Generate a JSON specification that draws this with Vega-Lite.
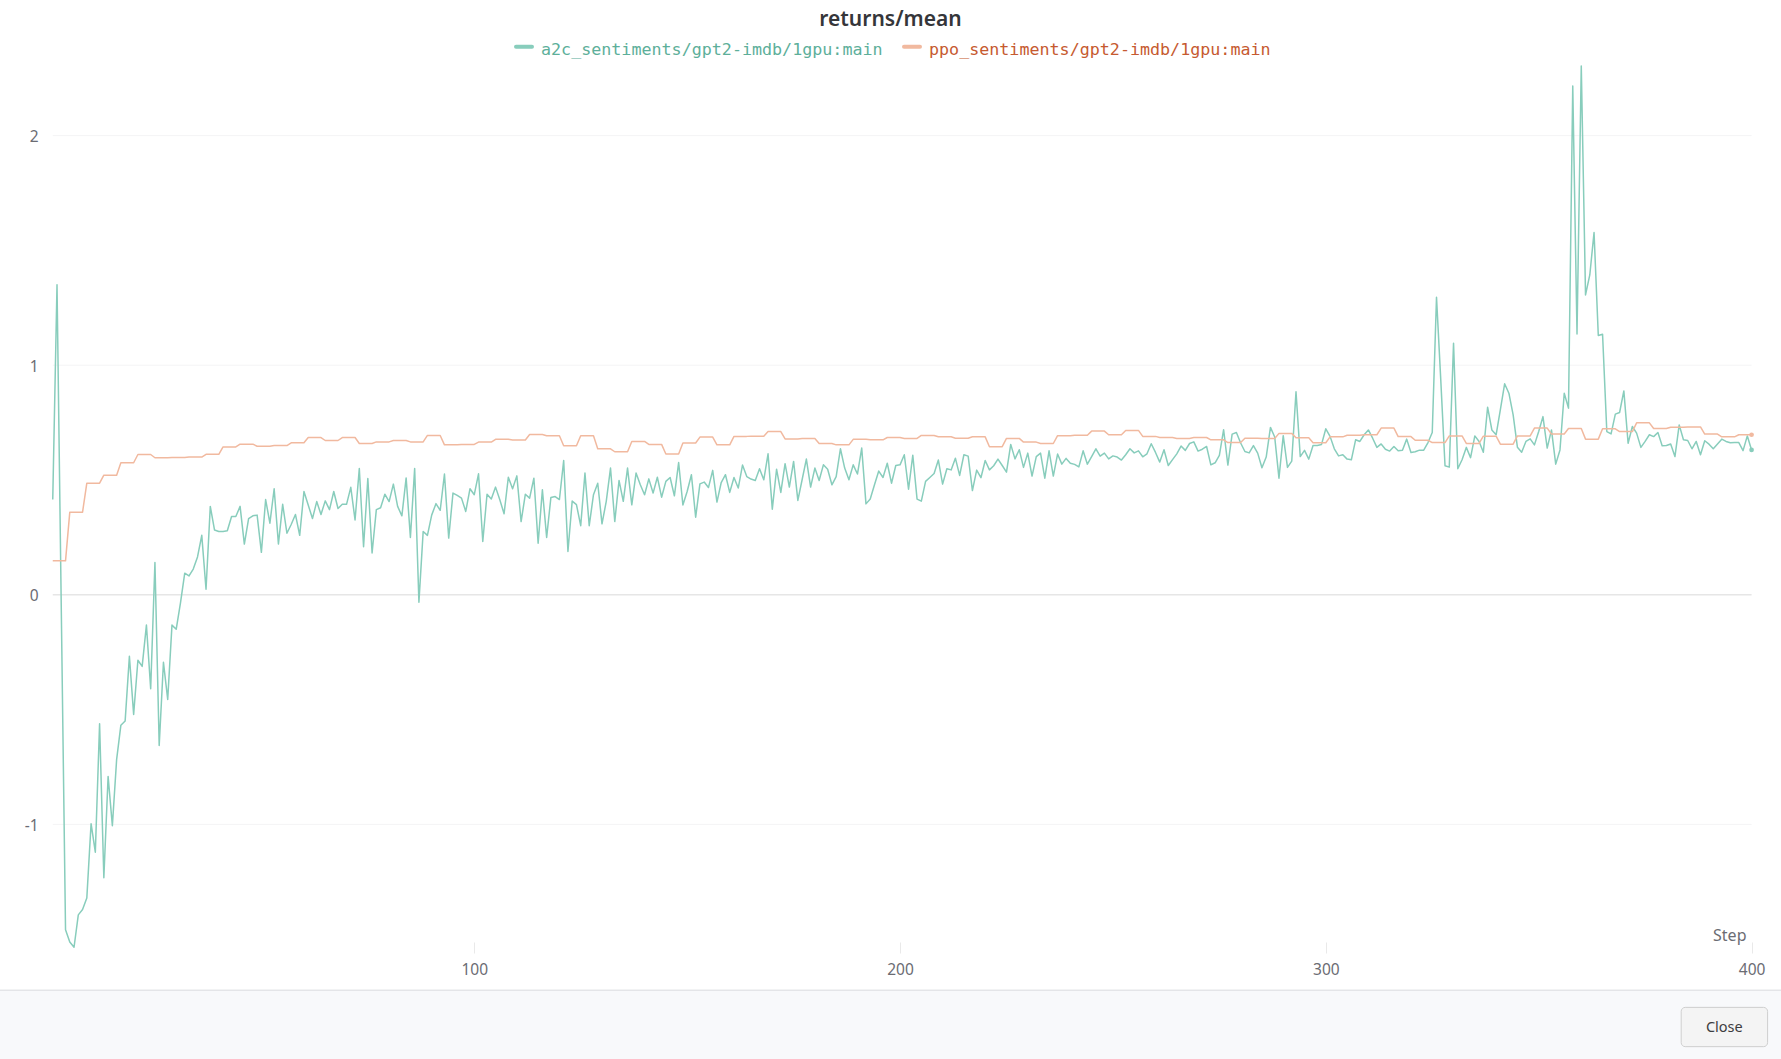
{"$schema":"https://vega.github.io/schema/vega-lite/v6.json","width":1781,"height":1059,"padding":0,"autosize":{"type":"none"},"background":"#ffffff","config":{"view":{"stroke":null}},
"title":{"text":"returns/mean","anchor":"middle","offset":-30,"font":"Noto Sans","fontSize":21,"fontWeight":600,"color":"#35363a"},
"datasets":{"runs":[
{"step":1,"a2c":0.415,"ppo":0.148},{"step":2,"a2c":1.35,"ppo":0.148},{"step":3,"a2c":-0.056,"ppo":0.148},{"step":4,"a2c":-1.459,"ppo":0.148},
{"step":5,"a2c":-1.512,"ppo":0.36},{"step":6,"a2c":-1.535,"ppo":0.36},{"step":7,"a2c":-1.394,"ppo":0.36},{"step":8,"a2c":-1.371,"ppo":0.36},
{"step":9,"a2c":-1.321,"ppo":0.486},{"step":10,"a2c":-0.997,"ppo":0.486},{"step":11,"a2c":-1.121,"ppo":0.486},{"step":12,"a2c":-0.562,"ppo":0.486},
{"step":13,"a2c":-1.232,"ppo":0.521},{"step":14,"a2c":-0.791,"ppo":0.521},{"step":15,"a2c":-1.006,"ppo":0.521},{"step":16,"a2c":-0.718,"ppo":0.521},
{"step":17,"a2c":-0.568,"ppo":0.575},{"step":18,"a2c":-0.55,"ppo":0.575},{"step":19,"a2c":-0.268,"ppo":0.575},{"step":20,"a2c":-0.521,"ppo":0.575},
{"step":21,"a2c":-0.285,"ppo":0.611},{"step":22,"a2c":-0.312,"ppo":0.611},{"step":23,"a2c":-0.132,"ppo":0.611},{"step":24,"a2c":-0.409,"ppo":0.611},
{"step":25,"a2c":0.141,"ppo":0.597},{"step":26,"a2c":-0.656,"ppo":0.597},{"step":27,"a2c":-0.294,"ppo":0.597},{"step":28,"a2c":-0.456,"ppo":0.597},
{"step":29,"a2c":-0.132,"ppo":0.598},{"step":30,"a2c":-0.15,"ppo":0.598},{"step":31,"a2c":-0.035,"ppo":0.598},{"step":32,"a2c":0.094,"ppo":0.598},
{"step":33,"a2c":0.082,"ppo":0.6},{"step":34,"a2c":0.112,"ppo":0.6},{"step":35,"a2c":0.165,"ppo":0.6},{"step":36,"a2c":0.259,"ppo":0.6},
{"step":37,"a2c":0.024,"ppo":0.612},{"step":38,"a2c":0.385,"ppo":0.612},{"step":39,"a2c":0.282,"ppo":0.612},{"step":40,"a2c":0.276,"ppo":0.612},
{"step":41,"a2c":0.276,"ppo":0.644},{"step":42,"a2c":0.279,"ppo":0.644},{"step":43,"a2c":0.341,"ppo":0.644},{"step":44,"a2c":0.341,"ppo":0.644},
{"step":45,"a2c":0.385,"ppo":0.656},{"step":46,"a2c":0.221,"ppo":0.656},{"step":47,"a2c":0.332,"ppo":0.656},{"step":48,"a2c":0.344,"ppo":0.656},
{"step":49,"a2c":0.347,"ppo":0.647},{"step":50,"a2c":0.185,"ppo":0.647},{"step":51,"a2c":0.415,"ppo":0.647},{"step":52,"a2c":0.312,"ppo":0.647},
{"step":53,"a2c":0.462,"ppo":0.65},{"step":54,"a2c":0.221,"ppo":0.65},{"step":55,"a2c":0.394,"ppo":0.65},{"step":56,"a2c":0.268,"ppo":0.65},
{"step":57,"a2c":0.306,"ppo":0.662},{"step":58,"a2c":0.35,"ppo":0.662},{"step":59,"a2c":0.259,"ppo":0.662},{"step":60,"a2c":0.45,"ppo":0.662},
{"step":61,"a2c":0.391,"ppo":0.685},{"step":62,"a2c":0.332,"ppo":0.685},{"step":63,"a2c":0.406,"ppo":0.685},{"step":64,"a2c":0.35,"ppo":0.685},
{"step":65,"a2c":0.409,"ppo":0.672},{"step":66,"a2c":0.371,"ppo":0.672},{"step":67,"a2c":0.45,"ppo":0.672},{"step":68,"a2c":0.376,"ppo":0.672},
{"step":69,"a2c":0.394,"ppo":0.685},{"step":70,"a2c":0.394,"ppo":0.685},{"step":71,"a2c":0.468,"ppo":0.685},{"step":72,"a2c":0.326,"ppo":0.685},
{"step":73,"a2c":0.55,"ppo":0.659},{"step":74,"a2c":0.209,"ppo":0.659},{"step":75,"a2c":0.506,"ppo":0.659},{"step":76,"a2c":0.182,"ppo":0.659},
{"step":77,"a2c":0.371,"ppo":0.666},{"step":78,"a2c":0.379,"ppo":0.666},{"step":79,"a2c":0.438,"ppo":0.666},{"step":80,"a2c":0.406,"ppo":0.666},
{"step":81,"a2c":0.482,"ppo":0.672},{"step":82,"a2c":0.385,"ppo":0.672},{"step":83,"a2c":0.344,"ppo":0.672},{"step":84,"a2c":0.509,"ppo":0.672},
{"step":85,"a2c":0.25,"ppo":0.666},{"step":86,"a2c":0.55,"ppo":0.666},{"step":87,"a2c":-0.032,"ppo":0.666},{"step":88,"a2c":0.276,"ppo":0.666},
{"step":89,"a2c":0.259,"ppo":0.694},{"step":90,"a2c":0.347,"ppo":0.694},{"step":91,"a2c":0.397,"ppo":0.694},{"step":92,"a2c":0.368,"ppo":0.694},
{"step":93,"a2c":0.526,"ppo":0.653},{"step":94,"a2c":0.247,"ppo":0.653},{"step":95,"a2c":0.443,"ppo":0.653},{"step":96,"a2c":0.433,"ppo":0.653},
{"step":97,"a2c":0.421,"ppo":0.655},{"step":98,"a2c":0.363,"ppo":0.655},{"step":99,"a2c":0.462,"ppo":0.655},{"step":100,"a2c":0.436,"ppo":0.655},
{"step":101,"a2c":0.527,"ppo":0.665},{"step":102,"a2c":0.232,"ppo":0.665},{"step":103,"a2c":0.438,"ppo":0.665},{"step":104,"a2c":0.417,"ppo":0.665},
{"step":105,"a2c":0.469,"ppo":0.677},{"step":106,"a2c":0.414,"ppo":0.677},{"step":107,"a2c":0.353,"ppo":0.677},{"step":108,"a2c":0.512,"ppo":0.677},
{"step":109,"a2c":0.462,"ppo":0.674},{"step":110,"a2c":0.518,"ppo":0.674},{"step":111,"a2c":0.319,"ppo":0.674},{"step":112,"a2c":0.438,"ppo":0.674},
{"step":113,"a2c":0.421,"ppo":0.698},{"step":114,"a2c":0.508,"ppo":0.698},{"step":115,"a2c":0.225,"ppo":0.698},{"step":116,"a2c":0.457,"ppo":0.698},
{"step":117,"a2c":0.25,"ppo":0.693},{"step":118,"a2c":0.424,"ppo":0.693},{"step":119,"a2c":0.428,"ppo":0.693},{"step":120,"a2c":0.415,"ppo":0.693},
{"step":121,"a2c":0.585,"ppo":0.649},{"step":122,"a2c":0.189,"ppo":0.649},{"step":123,"a2c":0.408,"ppo":0.649},{"step":124,"a2c":0.393,"ppo":0.649},
{"step":125,"a2c":0.301,"ppo":0.693},{"step":126,"a2c":0.53,"ppo":0.693},{"step":127,"a2c":0.301,"ppo":0.693},{"step":128,"a2c":0.436,"ppo":0.693},
{"step":129,"a2c":0.486,"ppo":0.636},{"step":130,"a2c":0.309,"ppo":0.636},{"step":131,"a2c":0.407,"ppo":0.636},{"step":132,"a2c":0.552,"ppo":0.636},
{"step":133,"a2c":0.319,"ppo":0.623},{"step":134,"a2c":0.498,"ppo":0.623},{"step":135,"a2c":0.407,"ppo":0.623},{"step":136,"a2c":0.552,"ppo":0.623},
{"step":137,"a2c":0.392,"ppo":0.668},{"step":138,"a2c":0.53,"ppo":0.668},{"step":139,"a2c":0.479,"ppo":0.668},{"step":140,"a2c":0.436,"ppo":0.668},
{"step":141,"a2c":0.505,"ppo":0.655},{"step":142,"a2c":0.443,"ppo":0.655},{"step":143,"a2c":0.512,"ppo":0.655},{"step":144,"a2c":0.425,"ppo":0.655},
{"step":145,"a2c":0.494,"ppo":0.613},{"step":146,"a2c":0.511,"ppo":0.613},{"step":147,"a2c":0.431,"ppo":0.613},{"step":148,"a2c":0.576,"ppo":0.613},
{"step":149,"a2c":0.391,"ppo":0.661},{"step":150,"a2c":0.45,"ppo":0.661},{"step":151,"a2c":0.523,"ppo":0.661},{"step":152,"a2c":0.338,"ppo":0.661},
{"step":153,"a2c":0.483,"ppo":0.687},{"step":154,"a2c":0.491,"ppo":0.687},{"step":155,"a2c":0.467,"ppo":0.687},{"step":156,"a2c":0.542,"ppo":0.687},
{"step":157,"a2c":0.404,"ppo":0.653},{"step":158,"a2c":0.489,"ppo":0.653},{"step":159,"a2c":0.523,"ppo":0.653},{"step":160,"a2c":0.446,"ppo":0.653},
{"step":161,"a2c":0.511,"ppo":0.69},{"step":162,"a2c":0.465,"ppo":0.69},{"step":163,"a2c":0.565,"ppo":0.69},{"step":164,"a2c":0.515,"ppo":0.69},
{"step":165,"a2c":0.504,"ppo":0.691},{"step":166,"a2c":0.498,"ppo":0.691},{"step":167,"a2c":0.549,"ppo":0.691},{"step":168,"a2c":0.501,"ppo":0.691},
{"step":169,"a2c":0.614,"ppo":0.711},{"step":170,"a2c":0.373,"ppo":0.711},{"step":171,"a2c":0.547,"ppo":0.711},{"step":172,"a2c":0.446,"ppo":0.711},
{"step":173,"a2c":0.571,"ppo":0.679},{"step":174,"a2c":0.469,"ppo":0.679},{"step":175,"a2c":0.581,"ppo":0.679},{"step":176,"a2c":0.411,"ppo":0.679},
{"step":177,"a2c":0.501,"ppo":0.681},{"step":178,"a2c":0.591,"ppo":0.681},{"step":179,"a2c":0.469,"ppo":0.681},{"step":180,"a2c":0.552,"ppo":0.681},
{"step":181,"a2c":0.498,"ppo":0.659},{"step":182,"a2c":0.566,"ppo":0.659},{"step":183,"a2c":0.547,"ppo":0.659},{"step":184,"a2c":0.479,"ppo":0.659},
{"step":185,"a2c":0.515,"ppo":0.653},{"step":186,"a2c":0.636,"ppo":0.653},{"step":187,"a2c":0.552,"ppo":0.653},{"step":188,"a2c":0.501,"ppo":0.653},
{"step":189,"a2c":0.566,"ppo":0.677},{"step":190,"a2c":0.526,"ppo":0.677},{"step":191,"a2c":0.639,"ppo":0.677},{"step":192,"a2c":0.396,"ppo":0.677},
{"step":193,"a2c":0.417,"ppo":0.675},{"step":194,"a2c":0.479,"ppo":0.675},{"step":195,"a2c":0.539,"ppo":0.675},{"step":196,"a2c":0.511,"ppo":0.675},
{"step":197,"a2c":0.573,"ppo":0.685},{"step":198,"a2c":0.486,"ppo":0.685},{"step":199,"a2c":0.563,"ppo":0.685},{"step":200,"a2c":0.566,"ppo":0.685},
{"step":201,"a2c":0.61,"ppo":0.681},{"step":202,"a2c":0.46,"ppo":0.681},{"step":203,"a2c":0.608,"ppo":0.681},{"step":204,"a2c":0.417,"ppo":0.681},
{"step":205,"a2c":0.408,"ppo":0.694},{"step":206,"a2c":0.494,"ppo":0.694},{"step":207,"a2c":0.511,"ppo":0.694},{"step":208,"a2c":0.528,"ppo":0.694},
{"step":209,"a2c":0.587,"ppo":0.688},{"step":210,"a2c":0.482,"ppo":0.688},{"step":211,"a2c":0.549,"ppo":0.688},{"step":212,"a2c":0.544,"ppo":0.688},
{"step":213,"a2c":0.595,"ppo":0.682},{"step":214,"a2c":0.52,"ppo":0.682},{"step":215,"a2c":0.61,"ppo":0.682},{"step":216,"a2c":0.604,"ppo":0.682},
{"step":217,"a2c":0.454,"ppo":0.688},{"step":218,"a2c":0.543,"ppo":0.688},{"step":219,"a2c":0.51,"ppo":0.688},{"step":220,"a2c":0.585,"ppo":0.688},
{"step":221,"a2c":0.544,"ppo":0.645},{"step":222,"a2c":0.562,"ppo":0.645},{"step":223,"a2c":0.591,"ppo":0.645},{"step":224,"a2c":0.563,"ppo":0.645},
{"step":225,"a2c":0.534,"ppo":0.681},{"step":226,"a2c":0.655,"ppo":0.681},{"step":227,"a2c":0.592,"ppo":0.681},{"step":228,"a2c":0.632,"ppo":0.681},
{"step":229,"a2c":0.555,"ppo":0.665},{"step":230,"a2c":0.617,"ppo":0.665},{"step":231,"a2c":0.517,"ppo":0.665},{"step":232,"a2c":0.602,"ppo":0.665},
{"step":233,"a2c":0.617,"ppo":0.659},{"step":234,"a2c":0.508,"ppo":0.659},{"step":235,"a2c":0.627,"ppo":0.659},{"step":236,"a2c":0.517,"ppo":0.659},
{"step":237,"a2c":0.613,"ppo":0.693},{"step":238,"a2c":0.569,"ppo":0.693},{"step":239,"a2c":0.594,"ppo":0.693},{"step":240,"a2c":0.573,"ppo":0.693},
{"step":241,"a2c":0.568,"ppo":0.695},{"step":242,"a2c":0.557,"ppo":0.695},{"step":243,"a2c":0.627,"ppo":0.695},{"step":244,"a2c":0.569,"ppo":0.695},
{"step":245,"a2c":0.602,"ppo":0.713},{"step":246,"a2c":0.636,"ppo":0.713},{"step":247,"a2c":0.604,"ppo":0.713},{"step":248,"a2c":0.617,"ppo":0.713},
{"step":249,"a2c":0.592,"ppo":0.697},{"step":250,"a2c":0.605,"ppo":0.697},{"step":251,"a2c":0.6,"ppo":0.697},{"step":252,"a2c":0.587,"ppo":0.697},
{"step":253,"a2c":0.61,"ppo":0.716},{"step":254,"a2c":0.636,"ppo":0.716},{"step":255,"a2c":0.618,"ppo":0.716},{"step":256,"a2c":0.627,"ppo":0.716},
{"step":257,"a2c":0.601,"ppo":0.69},{"step":258,"a2c":0.614,"ppo":0.69},{"step":259,"a2c":0.658,"ppo":0.69},{"step":260,"a2c":0.62,"ppo":0.69},
{"step":261,"a2c":0.578,"ppo":0.685},{"step":262,"a2c":0.632,"ppo":0.685},{"step":263,"a2c":0.563,"ppo":0.685},{"step":264,"a2c":0.589,"ppo":0.685},
{"step":265,"a2c":0.614,"ppo":0.681},{"step":266,"a2c":0.648,"ppo":0.681},{"step":267,"a2c":0.629,"ppo":0.681},{"step":268,"a2c":0.659,"ppo":0.681},
{"step":269,"a2c":0.666,"ppo":0.685},{"step":270,"a2c":0.626,"ppo":0.685},{"step":271,"a2c":0.634,"ppo":0.685},{"step":272,"a2c":0.646,"ppo":0.685},
{"step":273,"a2c":0.566,"ppo":0.675},{"step":274,"a2c":0.575,"ppo":0.675},{"step":275,"a2c":0.607,"ppo":0.675},{"step":276,"a2c":0.719,"ppo":0.675},
{"step":277,"a2c":0.565,"ppo":0.663},{"step":278,"a2c":0.7,"ppo":0.663},{"step":279,"a2c":0.707,"ppo":0.663},{"step":280,"a2c":0.661,"ppo":0.663},
{"step":281,"a2c":0.624,"ppo":0.682},{"step":282,"a2c":0.618,"ppo":0.682},{"step":283,"a2c":0.65,"ppo":0.682},{"step":284,"a2c":0.617,"ppo":0.682},
{"step":285,"a2c":0.553,"ppo":0.681},{"step":286,"a2c":0.6,"ppo":0.681},{"step":287,"a2c":0.729,"ppo":0.681},{"step":288,"a2c":0.687,"ppo":0.681},
{"step":289,"a2c":0.508,"ppo":0.703},{"step":290,"a2c":0.693,"ppo":0.703},{"step":291,"a2c":0.555,"ppo":0.703},{"step":292,"a2c":0.582,"ppo":0.703},
{"step":293,"a2c":0.884,"ppo":0.684},{"step":294,"a2c":0.602,"ppo":0.684},{"step":295,"a2c":0.629,"ppo":0.684},{"step":296,"a2c":0.591,"ppo":0.684},
{"step":297,"a2c":0.65,"ppo":0.662},{"step":298,"a2c":0.65,"ppo":0.662},{"step":299,"a2c":0.655,"ppo":0.662},{"step":300,"a2c":0.723,"ppo":0.662},
{"step":301,"a2c":0.69,"ppo":0.688},{"step":302,"a2c":0.636,"ppo":0.688},{"step":303,"a2c":0.605,"ppo":0.688},{"step":304,"a2c":0.61,"ppo":0.688},
{"step":305,"a2c":0.591,"ppo":0.695},{"step":306,"a2c":0.588,"ppo":0.695},{"step":307,"a2c":0.675,"ppo":0.695},{"step":308,"a2c":0.668,"ppo":0.695},
{"step":309,"a2c":0.697,"ppo":0.697},{"step":310,"a2c":0.718,"ppo":0.697},{"step":311,"a2c":0.682,"ppo":0.697},{"step":312,"a2c":0.642,"ppo":0.697},
{"step":313,"a2c":0.657,"ppo":0.726},{"step":314,"a2c":0.634,"ppo":0.726},{"step":315,"a2c":0.626,"ppo":0.726},{"step":316,"a2c":0.646,"ppo":0.726},
{"step":317,"a2c":0.627,"ppo":0.689},{"step":318,"a2c":0.63,"ppo":0.689},{"step":319,"a2c":0.678,"ppo":0.689},{"step":320,"a2c":0.62,"ppo":0.689},
{"step":321,"a2c":0.623,"ppo":0.673},{"step":322,"a2c":0.63,"ppo":0.673},{"step":323,"a2c":0.63,"ppo":0.673},{"step":324,"a2c":0.663,"ppo":0.673},
{"step":325,"a2c":0.707,"ppo":0.663},{"step":326,"a2c":1.296,"ppo":0.663},{"step":327,"a2c":0.936,"ppo":0.663},{"step":328,"a2c":0.562,"ppo":0.663},
{"step":329,"a2c":0.556,"ppo":0.692},{"step":330,"a2c":1.096,"ppo":0.692},{"step":331,"a2c":0.549,"ppo":0.692},{"step":332,"a2c":0.588,"ppo":0.692},
{"step":333,"a2c":0.642,"ppo":0.659},{"step":334,"a2c":0.597,"ppo":0.659},{"step":335,"a2c":0.692,"ppo":0.659},{"step":336,"a2c":0.668,"ppo":0.659},
{"step":337,"a2c":0.621,"ppo":0.691},{"step":338,"a2c":0.817,"ppo":0.691},{"step":339,"a2c":0.718,"ppo":0.691},{"step":340,"a2c":0.697,"ppo":0.691},
{"step":341,"a2c":0.806,"ppo":0.656},{"step":342,"a2c":0.919,"ppo":0.656},{"step":343,"a2c":0.878,"ppo":0.656},{"step":344,"a2c":0.784,"ppo":0.656},
{"step":345,"a2c":0.643,"ppo":0.692},{"step":346,"a2c":0.621,"ppo":0.692},{"step":347,"a2c":0.668,"ppo":0.692},{"step":348,"a2c":0.679,"ppo":0.692},
{"step":349,"a2c":0.653,"ppo":0.726},{"step":350,"a2c":0.711,"ppo":0.726},{"step":351,"a2c":0.776,"ppo":0.726},{"step":352,"a2c":0.639,"ppo":0.726},
{"step":353,"a2c":0.718,"ppo":0.7},{"step":354,"a2c":0.569,"ppo":0.7},{"step":355,"a2c":0.631,"ppo":0.7},{"step":356,"a2c":0.878,"ppo":0.7},
{"step":357,"a2c":0.813,"ppo":0.724},{"step":358,"a2c":2.216,"ppo":0.724},{"step":359,"a2c":1.136,"ppo":0.724},{"step":360,"a2c":2.303,"ppo":0.724},
{"step":361,"a2c":1.306,"ppo":0.678},{"step":362,"a2c":1.393,"ppo":0.678},{"step":363,"a2c":1.578,"ppo":0.678},{"step":364,"a2c":1.129,"ppo":0.678},
{"step":365,"a2c":1.135,"ppo":0.723},{"step":366,"a2c":0.711,"ppo":0.723},{"step":367,"a2c":0.701,"ppo":0.723},{"step":368,"a2c":0.787,"ppo":0.723},
{"step":369,"a2c":0.794,"ppo":0.711},{"step":370,"a2c":0.888,"ppo":0.711},{"step":371,"a2c":0.66,"ppo":0.711},{"step":372,"a2c":0.733,"ppo":0.711},
{"step":373,"a2c":0.704,"ppo":0.749},{"step":374,"a2c":0.642,"ppo":0.749},{"step":375,"a2c":0.668,"ppo":0.749},{"step":376,"a2c":0.697,"ppo":0.749},
{"step":377,"a2c":0.689,"ppo":0.724},{"step":378,"a2c":0.707,"ppo":0.724},{"step":379,"a2c":0.649,"ppo":0.724},{"step":380,"a2c":0.65,"ppo":0.724},
{"step":381,"a2c":0.657,"ppo":0.73},{"step":382,"a2c":0.602,"ppo":0.73},{"step":383,"a2c":0.74,"ppo":0.73},{"step":384,"a2c":0.675,"ppo":0.73},
{"step":385,"a2c":0.672,"ppo":0.731},{"step":386,"a2c":0.636,"ppo":0.731},{"step":387,"a2c":0.668,"ppo":0.731},{"step":388,"a2c":0.61,"ppo":0.731},
{"step":389,"a2c":0.671,"ppo":0.7},{"step":390,"a2c":0.656,"ppo":0.7},{"step":391,"a2c":0.636,"ppo":0.7},{"step":392,"a2c":0.657,"ppo":0.7},
{"step":393,"a2c":0.678,"ppo":0.688},{"step":394,"a2c":0.668,"ppo":0.688},{"step":395,"a2c":0.662,"ppo":0.688},{"step":396,"a2c":0.663,"ppo":0.688},
{"step":397,"a2c":0.663,"ppo":0.697},{"step":398,"a2c":0.628,"ppo":0.697},{"step":399,"a2c":0.692,"ppo":0.697},{"step":400,"a2c":0.631,"ppo":0.697}
]},
"encoding":{
"x":{"field":"step","type":"quantitative","scale":{"domain":[-11.39,406.91],"nice":false,"zero":false},
"axis":{"values":[100,200,300,400],"orient":"bottom","offset":-117,"grid":false,"domain":false,"tickSize":11,"tickColor":"#e9e9e9","tickWidth":1,"labelFontSize":15.5,"labelColor":"#6b6c73","labelFont":"Noto Sans","labelPadding":9,"labelOverlap":false,"labelBound":false,"labelFlush":false,"title":"Step","titleAnchor":"end","titleAlign":"right","titleBaseline":"middle","titleX":1746,"titleY":-7,"titleFont":"Noto Sans","titleFontSize":16,"titleFontWeight":"normal","titleColor":"#6b6c73"}},
"y":{"field":"value","type":"quantitative","scale":{"domain":[-2.0218,2.5906],"nice":false,"zero":false},
"axis":{"values":[-1,0,1,2],"orient":"left","offset":-53,"grid":false,"domain":false,"ticks":false,"labelFontSize":15.5,"labelColor":"#6b6c73","labelFont":"Noto Sans","labelPadding":15,"labelOffset":1,"labelExpr":"'' + datum.value","title":null}}
},
"layer":[
{"data":{"values":[{"step":-11.39,"end":406.91,"value":-1.722,"bottom":-2.0218}]},"mark":{"type":"rect","fill":"#f8f9fb"},"encoding":{"x2":{"field":"end"},"y2":{"field":"bottom"}}},
{"data":{"values":[{"step":-11.39,"end":406.91,"value":-1.722}]},"mark":{"type":"rule","stroke":"#d9dbde","strokeWidth":1},"encoding":{"x2":{"field":"end"}}},
{"data":{"values":[{"step":1,"end":400,"value":-1},{"step":1,"end":400,"value":1},{"step":1,"end":400,"value":2}]},"mark":{"type":"rule","stroke":"#f4f4f5","strokeWidth":1},"encoding":{"x2":{"field":"end"}}},
{"data":{"values":[{"step":1,"end":400,"value":0}]},"mark":{"type":"rule","stroke":"#e6e6e6","strokeWidth":1.5},"encoding":{"x2":{"field":"end"}}},
{"data":{"name":"runs"},"mark":{"type":"line","strokeWidth":1.5,"strokeJoin":"round"},"encoding":{
"y":{"field":"a2c","type":"quantitative","scale":{"domain":[-2.0218,2.5906],"nice":false,"zero":false}},
"color":{"datum":"a2c_sentiments/gpt2-imdb/1gpu:main","type":"nominal","scale":{"domain":["a2c_sentiments/gpt2-imdb/1gpu:main","ppo_sentiments/gpt2-imdb/1gpu:main"],"range":["#88cdbc","#f1b99f"]},
"legend":{"title":null,"orient":"none","legendX":514,"legendY":40,"direction":"horizontal","columns":2,"symbolType":"stroke","symbolSize":256,"symbolStrokeWidth":4,"labelFont":"DejaVu Sans Mono","labelFontSize":16.7,"labelLimit":600,"labelOffset":7,"columnPadding":13,"padding":0,"encode":{"symbols":{"update":{"y":{"value":6.5},"strokeCap":{"value":"round"}}},"labels":{"update":{"fill":{"signal":"indexof(datum.value,'a2c')===0 ? '#5daf9a' : '#c65a30'"}}}}}}}},
{"data":{"name":"runs"},"mark":{"type":"line","strokeWidth":1.5,"strokeJoin":"round"},"encoding":{
"y":{"field":"ppo","type":"quantitative","scale":{"domain":[-2.0218,2.5906],"nice":false,"zero":false}},
"color":{"datum":"ppo_sentiments/gpt2-imdb/1gpu:main","type":"nominal"}}},
{"data":{"name":"runs"},"transform":[{"filter":"datum.step === 400"}],"mark":{"type":"point","filled":true,"size":22,"color":"#88cdbc","opacity":1},"encoding":{
"y":{"field":"a2c","type":"quantitative","scale":{"domain":[-2.0218,2.5906],"nice":false,"zero":false}}}},
{"data":{"name":"runs"},"transform":[{"filter":"datum.step === 400"}],"mark":{"type":"point","filled":true,"size":22,"color":"#f1b99f","opacity":1},"encoding":{
"y":{"field":"ppo","type":"quantitative","scale":{"domain":[-2.0218,2.5906],"nice":false,"zero":false}}}},
{"data":{"values":[{"step":383.47,"end":403.76,"value":-1.797,"bottom":-1.968}]},"mark":{"type":"rect","fill":"#f4f4f4","stroke":"#cfcfcf","strokeWidth":1,"cornerRadius":4},"encoding":{"x2":{"field":"end"},"y2":{"field":"bottom"}}},
{"data":{"values":[{"step":393.6,"value":-1.888,"label":"Close"}]},"mark":{"type":"text","font":"Noto Sans","fontSize":14.5,"color":"#3d3d40","align":"center","baseline":"middle"},"encoding":{"text":{"field":"label"}}}
]}
